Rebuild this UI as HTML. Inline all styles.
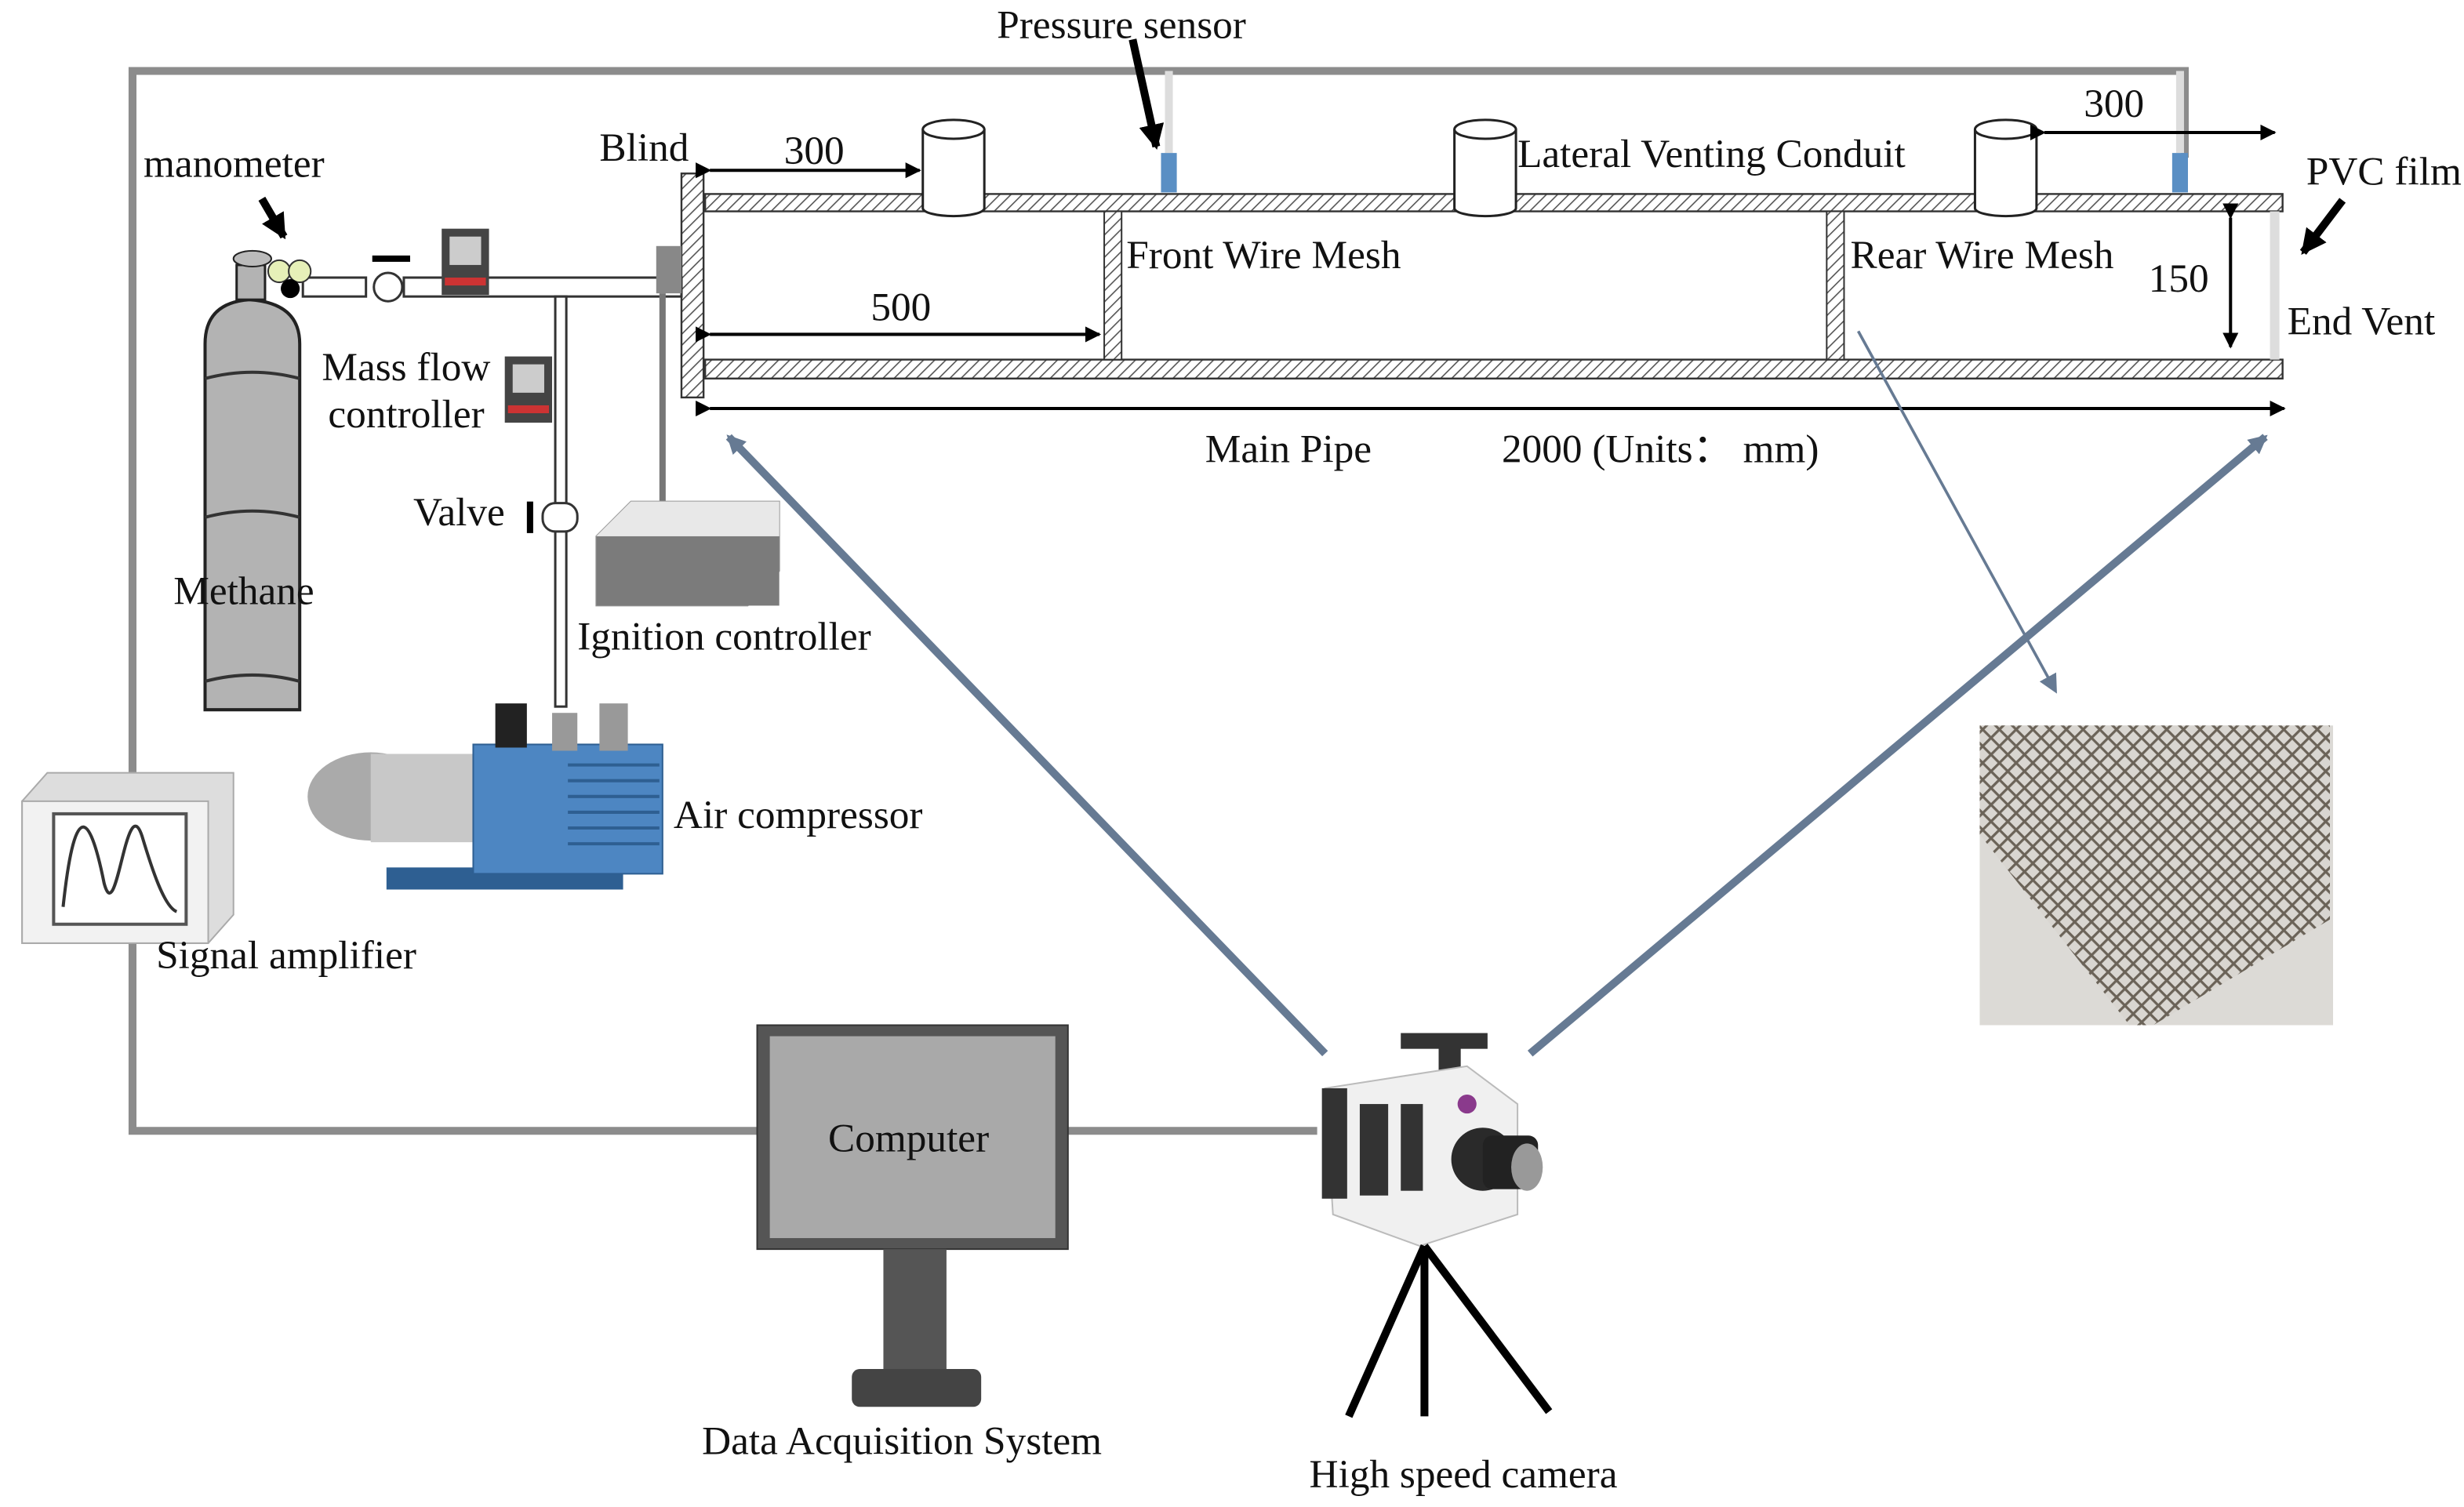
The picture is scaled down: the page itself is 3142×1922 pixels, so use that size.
<!DOCTYPE html>
<html><head><meta charset="utf-8"><style>
html,body{margin:0;padding:0;background:#fff;}
svg{display:block;}
text{font-family:"Liberation Serif",serif;font-size:25.5px;fill:#111;}
</style></head><body>
<svg width="3142" height="1922" viewBox="0 0 1562 955.5" preserveAspectRatio="none" xmlns="http://www.w3.org/2000/svg">
<defs>
<pattern id="h" width="5" height="5" patternUnits="userSpaceOnUse" patternTransform="rotate(45)">
<rect width="5" height="5" fill="#fff"/><line x1="0" y1="0" x2="0" y2="5" stroke="#555" stroke-width="1.6"/></pattern>
<pattern id="mesh" width="7.5" height="7.5" patternUnits="userSpaceOnUse" patternTransform="rotate(45)">
<rect width="7.5" height="7.5" fill="#d9d6d1"/><rect width="7.5" height="1.6" fill="#6b6358"/><rect width="1.6" height="7.5" fill="#6b6358"/></pattern>
<marker id="a" markerWidth="10" markerHeight="10" refX="9" refY="5" orient="auto" markerUnits="userSpaceOnUse"><path d="M0,0 L10,5 L0,10 z" fill="#000"/></marker>
<marker id="b" markerWidth="12" markerHeight="12" refX="10" refY="6" orient="auto" markerUnits="userSpaceOnUse"><path d="M0,0 L12,6 L0,12 z" fill="#667a93"/></marker>
<marker id="k" markerWidth="16" markerHeight="16" refX="14" refY="8" orient="auto" markerUnits="userSpaceOnUse"><path d="M0,0 L16,8 L0,16 z" fill="#000"/></marker>
</defs>

<!-- gray frame -->
<g stroke="#8c8c8c" stroke-width="5" fill="none">
<polyline points="1385,100 1385,45 84,45 84,717 480,717"/>
<line x1="677" y1="717" x2="835" y2="717"/>
</g>
<line x1="741" y1="45" x2="741" y2="97" stroke="#ddd" stroke-width="5"/>
<line x1="1382" y1="45" x2="1382" y2="97" stroke="#ddd" stroke-width="5"/>

<!-- main pipe -->
<rect x="447" y="123" width="1000" height="11" fill="url(#h)" stroke="#333" stroke-width="1.2"/>
<rect x="447" y="228" width="1000" height="12" fill="url(#h)" stroke="#333" stroke-width="1.2"/>
<rect x="432" y="110" width="14" height="142" fill="url(#h)" stroke="#333" stroke-width="1.2"/>
<rect x="700" y="134" width="11" height="94" fill="url(#h)" stroke="#333" stroke-width="1"/>
<rect x="1158" y="134" width="11" height="94" fill="url(#h)" stroke="#333" stroke-width="1"/>
<rect x="1439" y="134" width="6" height="94" fill="#ddd"/>
<g fill="#fff" stroke="#222" stroke-width="1.5">
<path d="M585,82 V132 A19.5,5 0 0 0 624,132 V82"/><ellipse cx="604.5" cy="82" rx="19.5" ry="6"/>
<path d="M922,82 V132 A19.5,5 0 0 0 961,132 V82"/><ellipse cx="941.5" cy="82" rx="19.5" ry="6"/>
<path d="M1252,82 V132 A19.5,5 0 0 0 1291,132 V82"/><ellipse cx="1271.5" cy="82" rx="19.5" ry="6"/>
</g>
<rect x="736" y="97" width="10" height="25" fill="#5a8fc4"/>
<rect x="1377" y="97" width="10" height="25" fill="#5a8fc4"/>

<!-- dimensions -->
<g stroke="#000" stroke-width="2" fill="none">
<line x1="450" y1="108" x2="583" y2="108" marker-end="url(#a)" marker-start="url(#a)"/>
<line x1="450" y1="212" x2="697" y2="212" marker-end="url(#a)" marker-start="url(#a)"/>
<line x1="1296" y1="84" x2="1442" y2="84" marker-end="url(#a)" marker-start="url(#a)"/>
<line x1="1414" y1="138" x2="1414" y2="220" marker-end="url(#a)" marker-start="url(#a)"/>
<line x1="450" y1="259" x2="1448" y2="259" marker-end="url(#a)" marker-start="url(#a)"/>
<line x1="718" y1="25" x2="733" y2="93" stroke-width="5" marker-end="url(#k)"/>
<line x1="1485" y1="127" x2="1460" y2="160" stroke-width="5" marker-end="url(#k)"/>
<line x1="166" y1="126" x2="180" y2="150" stroke-width="5" marker-end="url(#k)"/>
</g>

<!-- gas line -->
<g stroke="#333" stroke-width="1.5" fill="#fff">
<rect x="192" y="176" width="40" height="12"/>
<rect x="256" y="176" width="176" height="12"/>
<rect x="352" y="188" width="7" height="260" fill="#fff"/>
<circle cx="246" cy="182" r="9"/>
<rect x="344" y="319" width="22" height="18" rx="8"/>
</g>
<rect x="236" y="162" width="24" height="4" fill="#000"/>
<rect x="334" y="318" width="4" height="20" fill="#000"/>
<rect x="280" y="145" width="30" height="42" fill="#444"/><rect x="285" y="150" width="20" height="18" fill="#ccc"/><rect x="282" y="176" width="26" height="5" fill="#c33"/>
<rect x="320" y="226" width="30" height="42" fill="#444"/><rect x="325" y="231" width="20" height="18" fill="#ccc"/><rect x="322" y="257" width="26" height="5" fill="#c33"/>
<rect x="416" y="156" width="16" height="30" fill="#888"/>
<line x1="420" y1="186" x2="420" y2="325" stroke="#777" stroke-width="4"/>

<!-- methane cylinder -->
<path d="M130,450 V218 Q130,192 158,190 Q190,192 190,218 V450 Z" fill="#b3b3b3" stroke="#222" stroke-width="2"/>
<path d="M130,240 Q160,232 190,240 M130,328 Q160,320 190,328 M130,432 Q160,424 190,432" stroke="#333" stroke-width="2" fill="none"/>
<rect x="150" y="168" width="18" height="22" fill="#b3b3b3" stroke="#222" stroke-width="1.5"/>
<ellipse cx="160" cy="164" rx="12" ry="5" fill="#bbb" stroke="#222"/>
<circle cx="177" cy="172" r="7" fill="#e6f0b8" stroke="#333"/><circle cx="190" cy="172" r="7" fill="#e6f0b8" stroke="#333"/>
<circle cx="184" cy="183" r="6" fill="#000"/>

<!-- ignition controller -->
<path d="M378,340 L400,318 L494,318 L494,362 L474,384 L378,384 Z" fill="#d8d8d8" stroke="#999"/>
<rect x="378" y="340" width="116" height="44" fill="#7b7b7b"/>
<path d="M378,340 L400,318 L494,318 L494,340 Z" fill="#e8e8e8"/>

<!-- pump -->
<rect x="245" y="550" width="150" height="14" fill="#2e5f92"/>
<ellipse cx="235" cy="505" rx="40" ry="28" fill="#aaa"/>
<rect x="235" y="478" width="70" height="56" fill="#c8c8c8"/>
<rect x="300" y="472" width="120" height="82" fill="#4d86c2" stroke="#2e5f92"/>
<g stroke="#2e5f92" stroke-width="2"><line x1="360" y1="485" x2="418" y2="485"/><line x1="360" y1="495" x2="418" y2="495"/><line x1="360" y1="505" x2="418" y2="505"/><line x1="360" y1="515" x2="418" y2="515"/><line x1="360" y1="525" x2="418" y2="525"/><line x1="360" y1="535" x2="418" y2="535"/></g>
<rect x="314" y="446" width="20" height="28" fill="#222"/><rect x="350" y="452" width="16" height="24" fill="#999"/><rect x="380" y="446" width="18" height="30" fill="#999"/>

<!-- signal amplifier -->
<path d="M14,508 L30,490 L148,490 L148,580 L132,598 L14,598 Z" fill="#ddd" stroke="#aaa"/>
<rect x="14" y="508" width="118" height="90" fill="#f2f2f2" stroke="#aaa"/>
<rect x="34" y="516" width="84" height="70" fill="#fff" stroke="#555" stroke-width="2"/>
<path d="M40,575 C48,500 58,520 66,560 C74,590 80,500 90,530 C96,550 104,575 112,578" stroke="#333" stroke-width="2" fill="none"/>

<!-- blue arrows -->
<g stroke="#667a93" stroke-width="5">
<line x1="840" y1="668" x2="462" y2="277" marker-end="url(#b)"/>
<line x1="970" y1="668" x2="1436" y2="277" marker-end="url(#b)"/>
</g>
<line x1="1178" y1="210" x2="1303" y2="438" stroke="#667a93" stroke-width="1.8" marker-end="url(#b)"/>

<!-- mesh photo -->
<rect x="1255" y="460" width="224" height="190" fill="#dcdad6"/>
<path d="M1255,460 H1477 V583 L1365,650 H1350 L1255,529 Z" fill="url(#mesh)"/>

<!-- computer -->
<rect x="480" y="650" width="197" height="142" fill="#555" stroke="#333"/>
<rect x="488" y="657" width="181" height="128" fill="#a9a9a9"/>
<rect x="560" y="792" width="40" height="80" fill="#555"/>
<rect x="540" y="868" width="82" height="24" rx="5" fill="#444"/>

<!-- camera -->
<rect x="888" y="655" width="55" height="10" fill="#333"/>
<rect x="912" y="662" width="14" height="20" fill="#333"/>
<path d="M840,690 L930,676 L962,700 L962,770 L900,790 L845,770 Z" fill="#f0f0f0" stroke="#bbb"/>
<rect x="838" y="690" width="16" height="70" fill="#333"/>
<rect x="862" y="700" width="18" height="58" fill="#333"/>
<rect x="888" y="700" width="14" height="55" fill="#333"/>
<circle cx="930" cy="700" r="6" fill="#8a3a8c"/>
<circle cx="940" cy="735" r="20" fill="#2a2a2a"/>
<rect x="940" y="720" width="35" height="34" rx="6" fill="#222"/>
<ellipse cx="968" cy="740" rx="10" ry="15" fill="#999"/>
<g stroke="#000" stroke-width="5"><line x1="903" y1="790" x2="855" y2="898"/><line x1="903" y1="790" x2="903" y2="898"/><line x1="903" y1="790" x2="982" y2="895"/></g>

<!-- text -->
<text x="632" y="24">Pressure sensor</text>
<text x="380" y="102">Blind</text>
<text x="497" y="104">300</text>
<text x="962" y="106">Lateral Venting Conduit</text>
<text x="1321" y="74">300</text>
<text x="1462" y="117">PVC film</text>
<text x="714" y="170">Front Wire Mesh</text>
<text x="1173" y="170">Rear Wire Mesh</text>
<text x="1362" y="185">150</text>
<text x="1450" y="212">End Vent</text>
<text x="552" y="203">500</text>
<text x="764" y="293">Main Pipe</text>
<text x="952" y="293">2000 (Units： mm)</text>
<text x="91" y="112">manometer</text>
<text x="204" y="241">Mass flow</text>
<text x="208" y="271">controller</text>
<text x="262" y="333">Valve</text>
<text x="110" y="383">Methane</text>
<text x="366" y="412">Ignition controller</text>
<text x="427" y="525">Air compressor</text>
<text x="99" y="614">Signal amplifier</text>
<text x="525" y="730">Computer</text>
<text x="445" y="922">Data Acquisition System</text>
<text x="830" y="943">High speed camera</text>
</svg>
</body></html>
